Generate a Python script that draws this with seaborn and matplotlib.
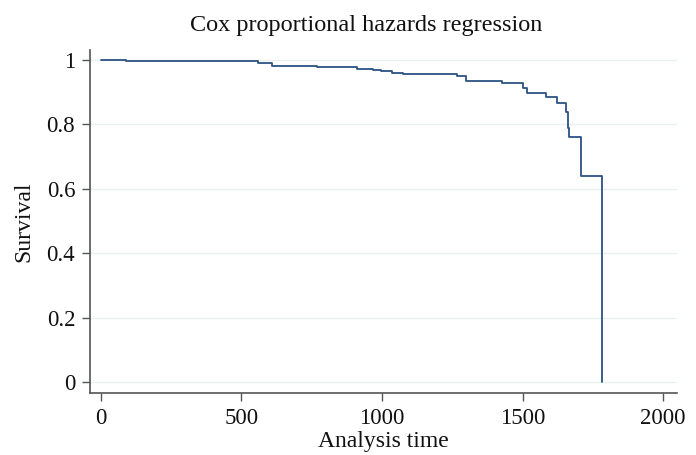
import pandas as pd
import matplotlib
matplotlib.use("Agg")
import matplotlib.pyplot as plt
import seaborn as sns

# step points of the survival curve
analysis_time = [0, 88, 559, 609, 769, 910, 967, 996, 1034, 1075, 1267, 1299,
                 1426, 1500, 1515, 1583, 1622, 1654, 1661, 1665, 1707, 1783]
survival = [1.0, 0.996, 0.990, 0.980, 0.978, 0.972, 0.969, 0.966, 0.959, 0.956,
            0.948, 0.934, 0.927, 0.912, 0.896, 0.885, 0.865, 0.839, 0.788,
            0.760, 0.640, 0.0]

x_ticks = [0, 500, 1000, 1500, 2000]
y_ticks = [0, 0.2, 0.4, 0.6, 0.8, 1]
y_tick_labels = ["0", "0.2", "0.4", "0.6", "0.8", "1"]

df = pd.DataFrame({"Analysis time": analysis_time, "Survival": survival})

sns.set_style("white")
plt.rcParams["font.family"] = ["Liberation Serif", "DejaVu Serif"]

fig = plt.figure(figsize=(6.96, 4.55), dpi=100)
ax = fig.add_axes([0.130, 0.136, 0.843, 0.754])

sns.lineplot(
    data=df,
    x="Analysis time",
    y="Survival",
    drawstyle="steps-post",
    color="#2c5282",
    linewidth=1.3,
    ax=ax
)

ax.set_xlim(-37, 2050)
ax.set_ylim(-0.034, 1.03)

ax.set_xticks(x_ticks)
ax.set_yticks(y_ticks)
ax.set_yticklabels(y_tick_labels)

ax.yaxis.grid(True, color="#eaf0f0", linewidth=1.0)
ax.set_axisbelow(True)

for side in ["top", "right"]:
    ax.spines[side].set_visible(False)
for side in ["left", "bottom"]:
    ax.spines[side].set_color("#555555")
    ax.spines[side].set_linewidth(1.2)

ax.tick_params(
    axis="both",
    direction="out",
    length=6,
    width=1.0,
    color="#555555",
    labelsize=16.5,
    labelcolor="#111111",
    pad=5,
    left=True,
    bottom=True
)

ax.set_xlabel("Analysis time", fontsize=17, color="#111111", labelpad=1)
ax.set_ylabel("Survival", fontsize=17, color="#111111", labelpad=9)

fig.text(0.526, 0.945, "Cox proportional hazards regression",
         ha="center", va="center", fontsize=17.5, color="#111111")

fig.savefig("out.png", dpi=100)
plt.close(fig)
